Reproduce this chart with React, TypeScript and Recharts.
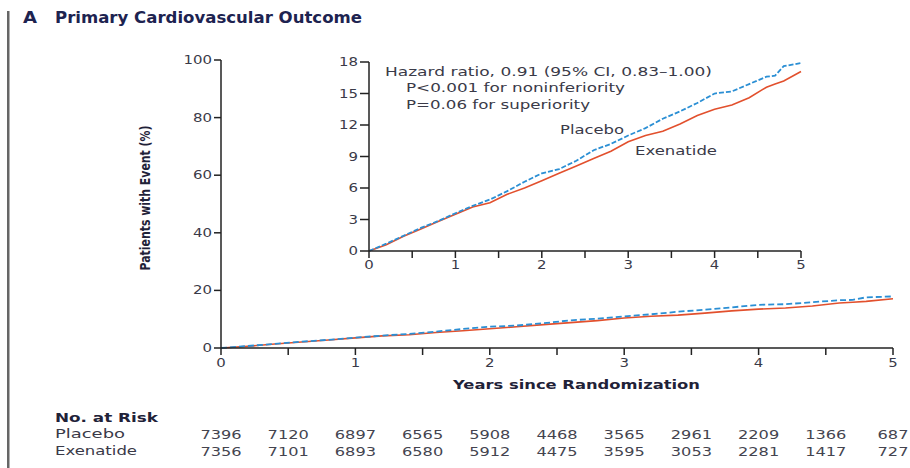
import { LineChart, Line, XAxis, YAxis, Label } from 'recharts'

// cumulative incidence (%)
const years = [0, 0.2, 0.4, 0.6, 0.8, 1.0, 1.2, 1.4, 1.6, 1.8, 2.0, 2.2, 2.4, 2.6, 2.8, 3.0, 3.2, 3.4, 3.6, 3.8, 4.0, 4.2, 4.4, 4.6, 4.7, 4.8, 5.0]
const placebo = [0, 0.7, 1.45, 2.2, 2.85, 3.6, 4.3, 4.9, 5.7, 6.6, 7.4, 7.8, 8.6, 9.6, 10.2, 11.0, 11.7, 12.6, 13.3, 14.1, 15.0, 15.2, 15.9, 16.6, 16.7, 17.6, 17.9]
const exenatide = [0, 0.6, 1.4, 2.1, 2.8, 3.5, 4.2, 4.6, 5.4, 6.0, 6.7, 7.4, 8.1, 8.8, 9.5, 10.4, 11.0, 11.4, 12.1, 12.9, 13.5, 13.9, 14.6, 15.6, 15.9, 16.2, 17.1]

const riskYears = [0, 0.5, 1, 1.5, 2, 2.5, 3, 3.5, 4, 4.5, 5]
const placeboAtRisk = [7396, 7120, 6897, 6565, 5908, 4468, 3565, 2961, 2209, 1366, 687]
const exenatideAtRisk = [7356, 7101, 6893, 6580, 5912, 4475, 3595, 3053, 2281, 1417, 727]

const mainYTicks = [0, 20, 40, 60, 80, 100]
const insetYTicks = [0, 3, 6, 9, 12, 15, 18]

const data = years.map((t, i) => ({ t, placebo: placebo[i], exenatide: exenatide[i] }))

const FONT = 'DejaVu Sans'
const BLUE = '#2b8fd4'
const RED = '#e2502d'
const AXIS = '#222'
const INK = '#3a3a48'

const yearLabel = (v: number) => (Number.isInteger(v) ? String(v) : '')
const riskIndex = (v: number) => Math.round(v * 2)

// the original typesetting is wide, so tick text gets stretched horizontally
function stretchTick(format: (v: number) => string, opts: { size: number; dy: string; stretch?: number; fill?: string }) {
  return (props: any) => {
    const { x, y, payload, textAnchor } = props
    return (
      <g transform={`translate(${x},${y}) scale(${opts.stretch ?? 1.3},1)`}>
        <text textAnchor={textAnchor} dy={opts.dy} fontSize={opts.size} fontFamily={FONT} fill={opts.fill ?? INK}>
          {format(payload.value)}
        </text>
      </g>
    )
  }
}

function MainChart() {
  return (
    <LineChart width={910} height={468} data={data} margin={{ top: 60, right: 17, bottom: 8, left: 181 }}>
      <XAxis
        xAxisId='main'
        dataKey='t'
        type='number'
        domain={[0, 5]}
        ticks={riskYears}
        height={78}
        tickSize={7}
        tickMargin={4}
        axisLine={{ stroke: AXIS, strokeWidth: 1.5 }}
        tickLine={{ stroke: AXIS, strokeWidth: 1.5 }}
        tick={stretchTick(yearLabel, { size: 11.5, dy: '0.71em' })}
      >
        <Label
          content={({ viewBox }: any) => (
            <text
              x={viewBox.x + viewBox.width / 2 - 104}
              y={viewBox.y + 41}
              textLength={247}
              lengthAdjust='spacingAndGlyphs'
              fontSize={13}
              fontWeight='bold'
              fontFamily={FONT}
              fill='#1f2238'
            >
              Years since Randomization
            </text>
          )}
        />
      </XAxis>
      {/* at-risk rows: bottom axes stack in id order, risk1 sits right under the main axis */}
      <XAxis
        xAxisId='risk1'
        dataKey='t'
        type='number'
        domain={[0, 5]}
        ticks={riskYears}
        height={17}
        tickSize={0}
        tickMargin={4}
        axisLine={false}
        tickLine={false}
        tick={stretchTick((v) => String(placeboAtRisk[riskIndex(v)]), { size: 12, dy: '0.71em', stretch: 1.35, fill: '#44444f' })}
      />
      <XAxis
        xAxisId='risk2'
        dataKey='t'
        type='number'
        domain={[0, 5]}
        ticks={riskYears}
        height={17}
        tickSize={0}
        tickMargin={4}
        axisLine={false}
        tickLine={false}
        tick={stretchTick((v) => String(exenatideAtRisk[riskIndex(v)]), { size: 12, dy: '0.71em', stretch: 1.35, fill: '#44444f' })}
      />
      <YAxis
        type='number'
        domain={[0, 100]}
        ticks={mainYTicks}
        width={40}
        tickSize={7}
        tickMargin={2}
        axisLine={{ stroke: AXIS, strokeWidth: 1.5 }}
        tickLine={{ stroke: AXIS, strokeWidth: 1.5 }}
        tick={stretchTick((v) => String(v), { size: 11.5, dy: '0.355em' })}
      >
        <Label
          content={() => (
            <text
              transform='translate(150,198) rotate(-90)'
              textAnchor='middle'
              textLength={145}
              lengthAdjust='spacingAndGlyphs'
              fontSize={14.5}
              fontWeight='bold'
              fontFamily={FONT}
              fill='#1f2238'
            >
              Patients with Event (%)
            </text>
          )}
        />
      </YAxis>
      <Line xAxisId='main' dataKey='exenatide' stroke={RED} strokeWidth={1.6} dot={false} isAnimationActive={false} />
      <Line xAxisId='main' dataKey='placebo' stroke={BLUE} strokeWidth={1.8} strokeDasharray='6 3' dot={false} isAnimationActive={false} />
    </LineChart>
  )
}

function InsetChart() {
  return (
    <LineChart width={500} height={230} data={data} margin={{ top: 12, right: 19, bottom: 0, left: 9 }}>
      <XAxis
        dataKey='t'
        type='number'
        domain={[0, 5]}
        ticks={riskYears}
        height={29}
        tickSize={7}
        tickMargin={3}
        axisLine={{ stroke: AXIS, strokeWidth: 1.5 }}
        tickLine={{ stroke: AXIS, strokeWidth: 1.5 }}
        tick={stretchTick(yearLabel, { size: 11.5, dy: '0.71em' })}
      />
      <YAxis
        type='number'
        domain={[0, 18]}
        ticks={insetYTicks}
        width={40}
        tickSize={9}
        tickMargin={2}
        axisLine={{ stroke: AXIS, strokeWidth: 1.5 }}
        tickLine={{ stroke: AXIS, strokeWidth: 1.5 }}
        tick={stretchTick((v) => String(v), { size: 11.5, dy: '0.355em' })}
      />
      <Line dataKey='exenatide' stroke={RED} strokeWidth={1.6} dot={false} isAnimationActive={false} />
      <Line dataKey='placebo' stroke={BLUE} strokeWidth={1.8} strokeDasharray='5 2' dot={false} isAnimationActive={false} />
    </LineChart>
  )
}

function Annotations() {
  const txt = { fontFamily: FONT, fill: INK, lengthAdjust: 'spacingAndGlyphs' as const }
  return (
    <svg width={910} height={468} style={{ position: 'absolute', left: 0, top: 0, pointerEvents: 'none' }}>
      <rect x={7} y={11} width={2.5} height={457} fill='#666' />
      <text x={23} y={23} fontSize={15} fontWeight='bold' fontFamily={FONT} fill='#1d2350' textLength={14} lengthAdjust='spacingAndGlyphs'>A</text>
      <text x={55} y={23} fontSize={15} fontWeight='bold' fontFamily={FONT} fill='#1d2350' textLength={307} lengthAdjust='spacingAndGlyphs'>
        Primary Cardiovascular Outcome
      </text>

      <text x={385} y={76} fontSize={13} textLength={327} {...txt}>Hazard ratio, 0.91 (95% CI, 0.83–1.00)</text>
      <text x={406} y={92} fontSize={13} textLength={219} {...txt}>P&lt;0.001 for noninferiority</text>
      <text x={406} y={109} fontSize={13} textLength={184} {...txt}>P=0.06 for superiority</text>
      <text x={560} y={134} fontSize={13} textLength={64} {...txt}>Placebo</text>
      <text x={635} y={155} fontSize={13} textLength={82} {...txt}>Exenatide</text>

      <text x={55} y={422} fontSize={13} fontWeight='bold' fontFamily={FONT} fill='#1f2238' textLength={103} lengthAdjust='spacingAndGlyphs'>
        No. at Risk
      </text>
      <text x={55} y={438} fontSize={12} textLength={70} {...txt}>Placebo</text>
      <text x={55} y={455} fontSize={12} textLength={82} {...txt}>Exenatide</text>
    </svg>
  )
}

export default function App() {
  return (
    <div style={{ position: 'fixed', left: 0, top: 0, width: 910, height: 468, background: '#fff', fontFamily: FONT }}>
      <div style={{ position: 'absolute', left: 0, top: 0 }}>
        <MainChart />
      </div>
      <div style={{ position: 'absolute', left: 320, top: 50 }}>
        <InsetChart />
      </div>
      <Annotations />
    </div>
  )
}
